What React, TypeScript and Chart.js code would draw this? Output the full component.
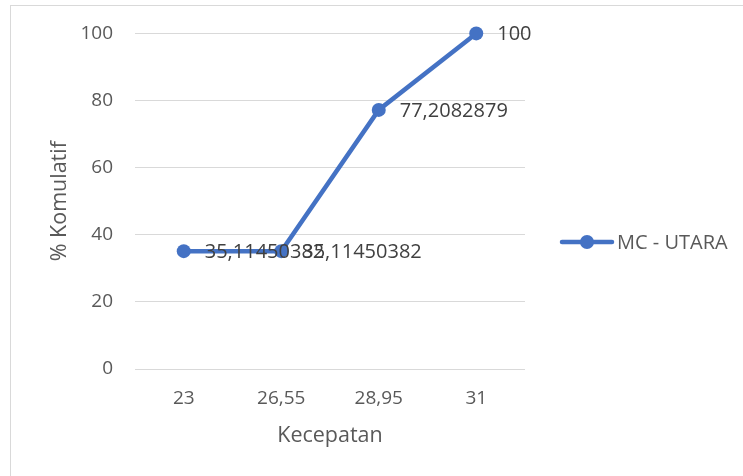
import React, { useEffect, useRef } from "react";
import { Chart, registerables } from "chart.js";

Chart.register(...registerables);

const categories = ["23", "26,55", "28,95", "31"];
const seriesName = "MC - UTARA";
const values = [35.11450382, 35.11450382, 77.2082879, 100];
const yTicks = [0, 20, 40, 60, 80, 100];
const xTitle = "Kecepatan";
const yTitle = "% Komulatif";

const FONT = "'Open Sans', sans-serif";
const BLUE = "#4472C4";

const fmt = (v: number) => String(v).replace(".", ",");

export default function App() {
  const ref = useRef<HTMLCanvasElement | null>(null);

  useEffect(() => {
    if (!ref.current) return;

    const decor = {
      id: "decor",
      beforeDraw(chart: any) {
        const ctx = chart.ctx;
        ctx.save();
        ctx.fillStyle = "#ffffff";
        ctx.fillRect(0, 0, chart.width, chart.height);
        ctx.strokeStyle = "#d9d9d9";
        ctx.lineWidth = 1;
        ctx.strokeRect(10.5, 5.5, 900, 700);
        ctx.restore();
      },
      afterDraw(chart: any) {
        const ctx = chart.ctx;
        const ca = chart.chartArea;
        ctx.save();
        // axis titles
        ctx.fillStyle = "#595959";
        ctx.font = `21.5px ${FONT}`;
        ctx.textAlign = "center";
        ctx.textBaseline = "middle";
        ctx.fillText(xTitle, (ca.left + ca.right) / 2, 436);
        ctx.save();
        ctx.translate(60, (ca.top + ca.bottom) / 2);
        ctx.rotate(-Math.PI / 2);
        ctx.fillText(yTitle, 0, 0);
        ctx.restore();
        // data labels
        const meta = chart.getDatasetMeta(0);
        ctx.fillStyle = "#404040";
        ctx.font = `20px ${FONT}`;
        ctx.textAlign = "left";
        ctx.textBaseline = "middle";
        meta.data.forEach((pt: any, i: number) => {
          ctx.fillText(fmt(values[i]), pt.x + 21, pt.y + 1);
        });
        // legend
        const ly = 242;
        ctx.strokeStyle = BLUE;
        ctx.lineWidth = 4.5;
        ctx.lineCap = "round";
        ctx.beginPath();
        ctx.moveTo(562, ly);
        ctx.lineTo(612, ly);
        ctx.stroke();
        ctx.fillStyle = BLUE;
        ctx.beginPath();
        ctx.arc(587, ly, 7, 0, Math.PI * 2);
        ctx.fill();
        ctx.fillStyle = "#595959";
        ctx.font = `20px ${FONT}`;
        ctx.fillText(seriesName, 617, ly + 1);
        ctx.restore();
      },
    };

    const chart = new Chart(ref.current, {
      type: "line",
      data: {
        labels: categories,
        datasets: [
          {
            label: seriesName,
            data: values,
            borderColor: BLUE,
            backgroundColor: BLUE,
            borderWidth: 4.5,
            pointRadius: 7,
            pointBorderWidth: 0,
            pointBackgroundColor: BLUE,
            tension: 0,
            clip: false as any,
          },
        ],
      },
      options: {
        animation: false,
        responsive: false,
        maintainAspectRatio: false,
        layout: { padding: { left: 0, top: 33, right: 218, bottom: 0 } },
        plugins: {
          legend: { display: false },
          tooltip: { enabled: false },
        },
        scales: {
          x: {
            type: "category",
            offset: true,
            grid: { display: false, drawTicks: false },
            border: { display: false },
            ticks: {
              color: "#595959",
              font: { family: FONT, size: 19 },
              padding: 18,
              maxRotation: 0,
            },
            afterFit(scale: any) {
              scale.height = 476 - 369;
            },
          },
          y: {
            min: 0,
            max: 100,
            afterBuildTicks(scale: any) {
              scale.ticks = yTicks.map((v) => ({ value: v }));
            },
            grid: { color: "#d9d9d9", lineWidth: 1, drawTicks: false },
            border: { display: false },
            ticks: {
              color: "#595959",
              font: { family: FONT, size: 19 },
              padding: 22,
            },
            afterFit(scale: any) {
              scale.width = 135;
            },
          },
        },
      },
      plugins: [decor],
    });

    return () => chart.destroy();
  }, []);

  return (
    <div style={{ position: "fixed", left: 0, top: 0, width: 743, height: 476, background: "#fff" }}>
      <canvas ref={ref} width={743} height={476} style={{ display: "block", width: 743, height: 476 }} />
    </div>
  );
}
